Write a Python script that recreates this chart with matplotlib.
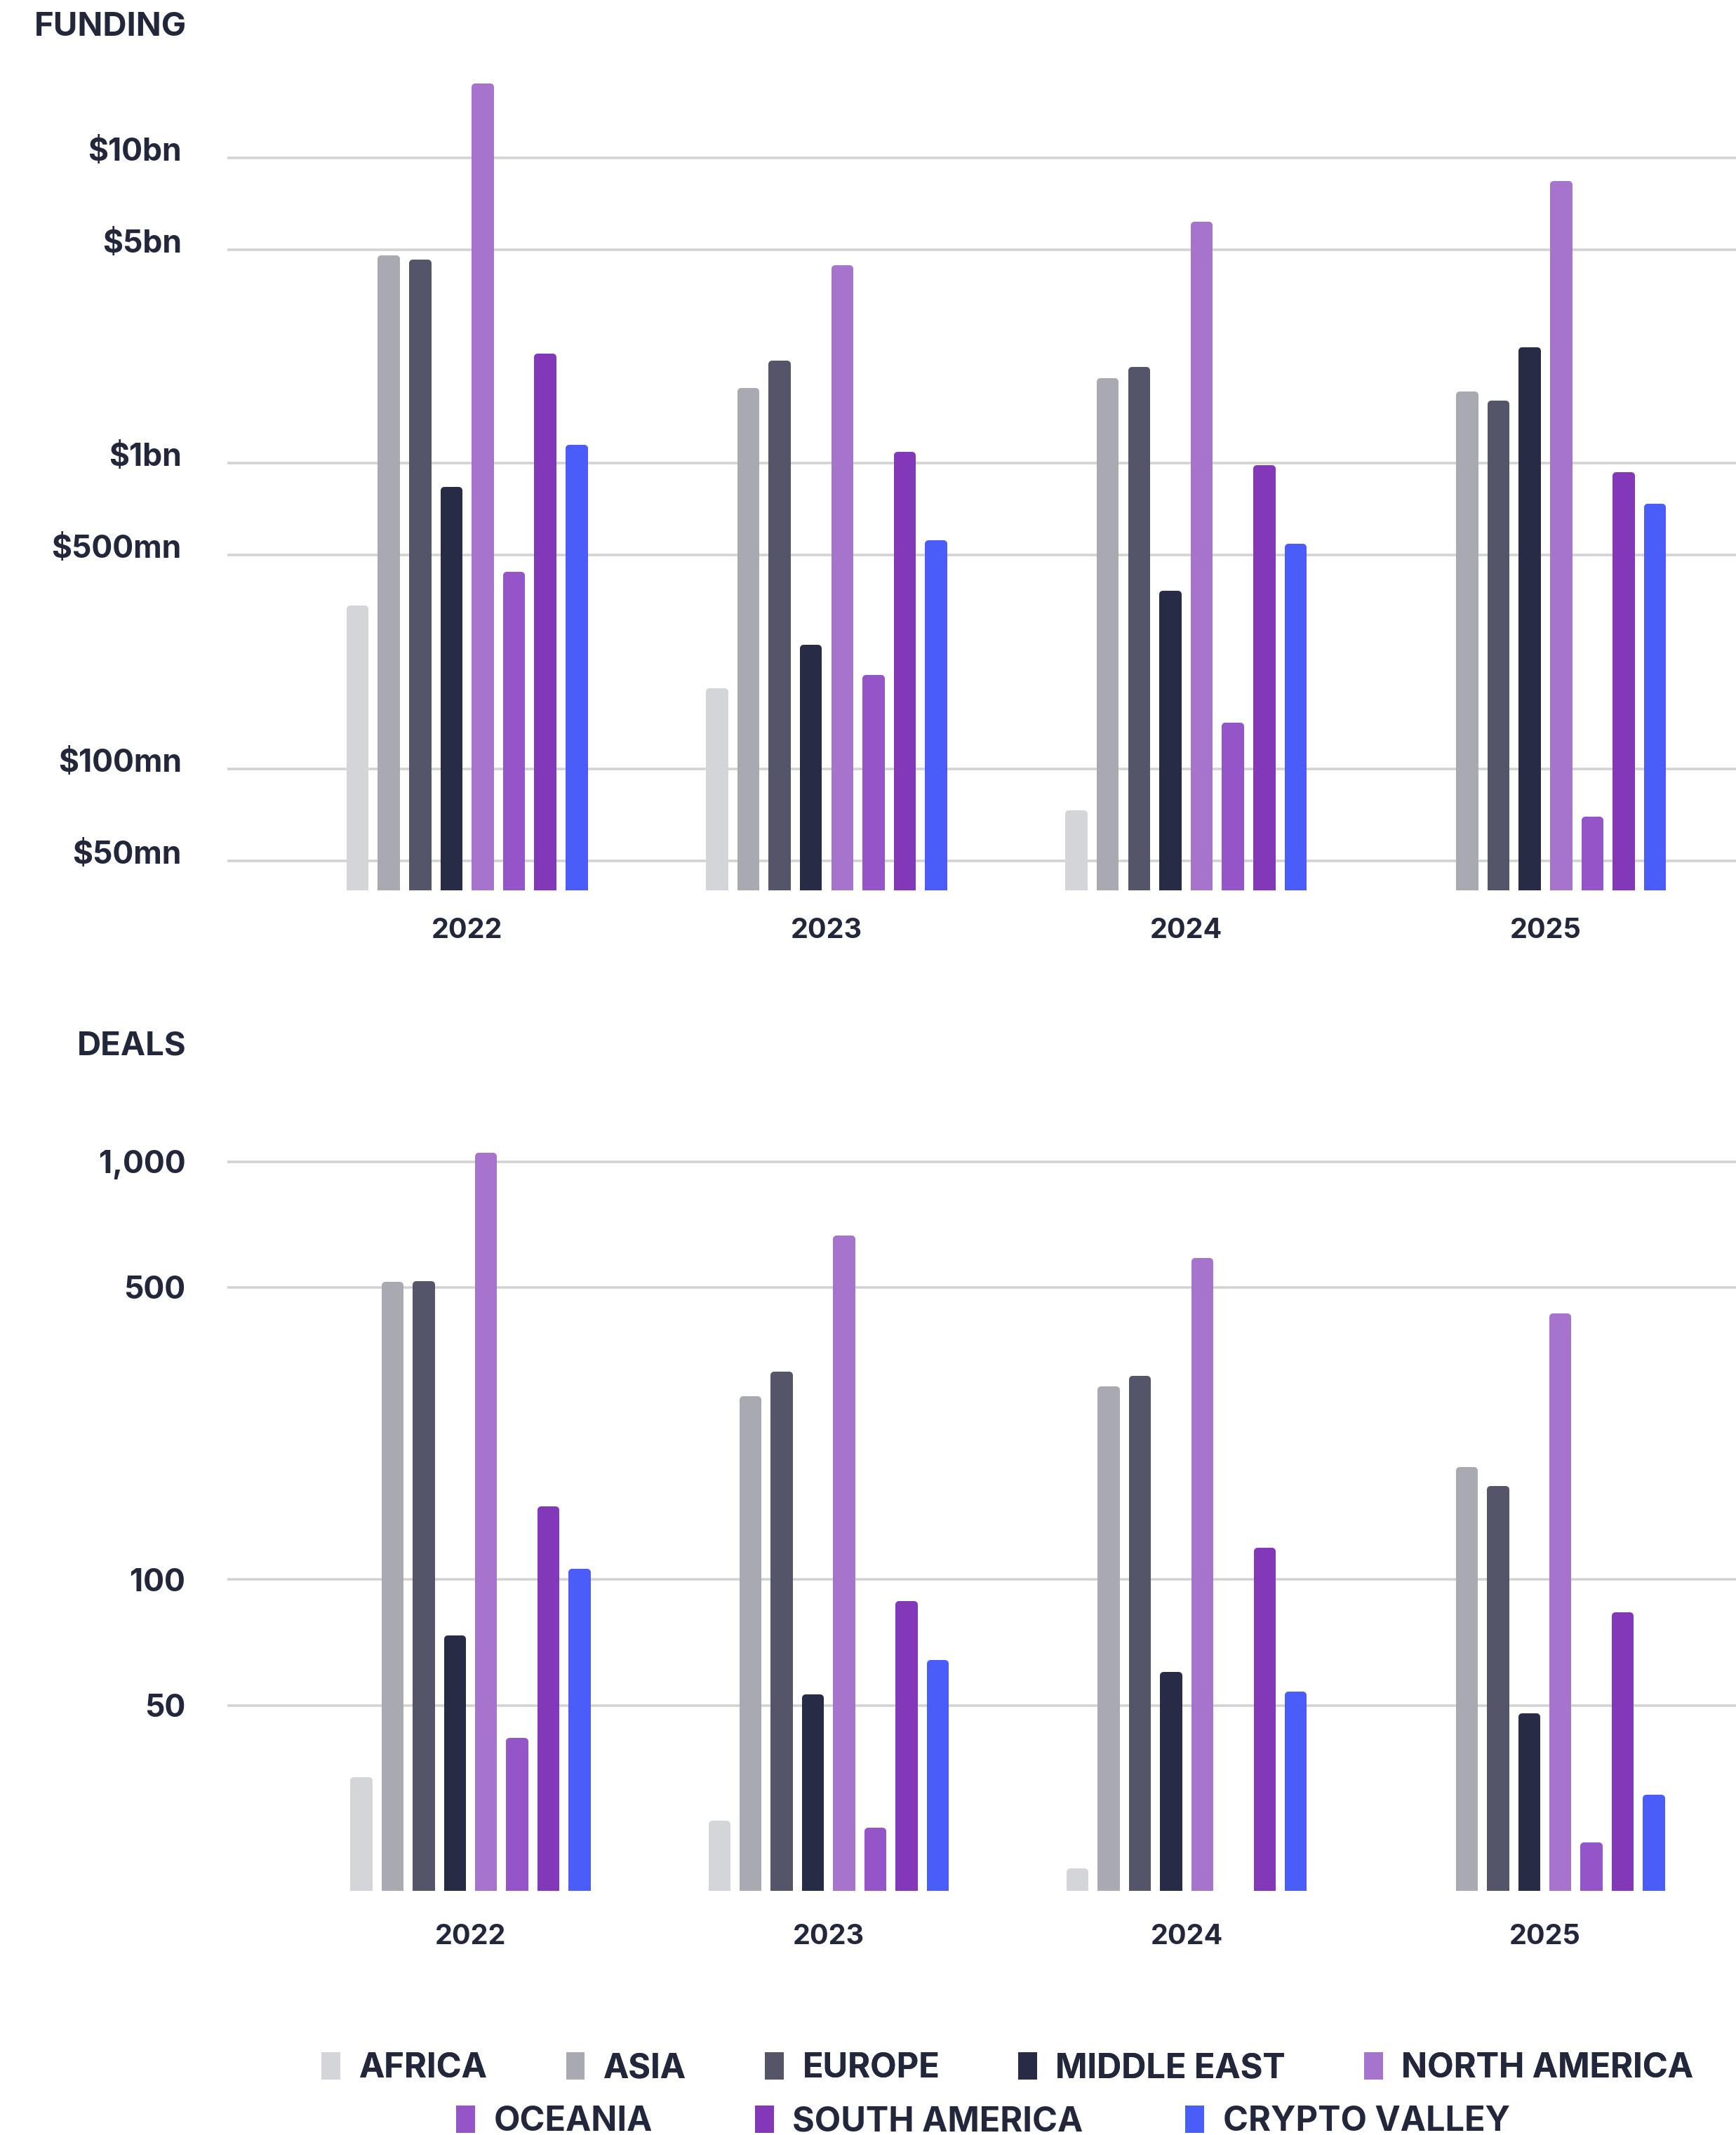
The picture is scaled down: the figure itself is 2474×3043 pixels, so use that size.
import matplotlib
matplotlib.use("Agg")
import matplotlib.pyplot as plt
import numpy as np
from matplotlib.patches import Patch
from matplotlib.ticker import NullLocator
import matplotlib.transforms as mtransforms

plt.rcParams['font.family'] = ['Inter', 'DejaVu Sans']

# ---------------- data ----------------
years = ["2022", "2023", "2024", "2025"]
regions = ["AFRICA", "ASIA", "EUROPE", "MIDDLE EAST", "NORTH AMERICA",
           "OCEANIA", "SOUTH AMERICA", "CRYPTO VALLEY"]
colors = ["#D4D5D9", "#A8A9B1", "#545569", "#282B45", "#A774CD",
          "#9455C9", "#8338B9", "#4B5DF8"]

# Funding, USD millions (0 = negligible / not shown)
funding_africa = [334, 179, 71, 0]
funding_asia = [4660, 1720, 1850, 1670]
funding_europe = [4520, 2110, 2010, 1560]
funding_middle_east = [815, 248, 373, 2340]
funding_north_america = [17100, 4330, 6030, 8180]
funding_oceania = [431, 198, 138, 68]
funding_south_america = [2230, 1060, 960, 912]
funding_crypto_valley = [1120, 546, 530, 719]

# Deals, count (0 = negligible / not shown)
deals_africa = [33, 26, 20, 0]
deals_asia = [505, 269, 284, 182]
deals_europe = [507, 308, 301, 164]
deals_middle_east = [72, 52, 59, 47]
deals_north_america = [1030, 652, 578, 425]
deals_oceania = [41, 25, 0, 23]
deals_south_america = [147, 87, 117, 82]
deals_crypto_valley = [104, 63, 53, 30]

funding_ticks = [50, 100, 500, 1000, 5000, 10000]
funding_ticklabels = ["$50mn", "$100mn", "$500mn", "$1bn", "$5bn", "$10bn"]
deals_ticks = [50, 100, 500, 1000]
deals_ticklabels = ["50", "100", "500", "1,000"]

funding_series = [funding_africa, funding_asia, funding_europe, funding_middle_east,
                  funding_north_america, funding_oceania, funding_south_america,
                  funding_crypto_valley]
deals_series = [deals_africa, deals_asia, deals_europe, deals_middle_east,
                deals_north_america, deals_oceania, deals_south_america,
                deals_crypto_valley]

NAVY = "#23273C"
FONT = ['Inter', 'DejaVu Sans']

W, H = 2474, 3043
fig = plt.figure(figsize=(W / 100, H / 100), dpi=100)
fig.patch.set_facecolor("white")

left = 324 / W
ax1 = fig.add_axes([left, 0.5830, 1 - left, 0.3861])
ax2 = fig.add_axes([left, 0.1144, 1 - left, 0.3638])

PITCH = 0.0871
EDGE_PX = 10
EDGE_PT = EDGE_PX * 72 / 100


def draw(ax, series, ymin, ymax, ticks, ticklabels, xlim, ypad, xpad, yshift):
    ax.set_yscale('log')
    ax.set_xlim(*xlim)
    ax.set_ylim(ymin, ymax)
    x = np.arange(len(years))
    n = len(series)
    px_per_unit = ax.get_position().width * W / (xlim[1] - xlim[0])
    bar_w = (31.5 - EDGE_PX) / px_per_unit
    for i, (vals, c) in enumerate(zip(series, colors)):
        vals = np.asarray(vals, dtype=float)
        mask = vals > ymin
        xs = x[mask] + (i - (n - 1) / 2) * PITCH
        ax.bar(xs, vals[mask] - ymin, bottom=ymin, width=bar_w, color=c,
               edgecolor=c, linewidth=EDGE_PT, joinstyle='round', zorder=3)
    ax.set_yticks(ticks)
    ax.set_yticklabels([])
    ax.yaxis.set_minor_locator(NullLocator())
    # y labels as text so they can sit slightly above the gridlines
    trans = mtransforms.blended_transform_factory(ax.transAxes, ax.transData) + \
        mtransforms.ScaledTranslation(-ypad / 72, yshift / 72, fig.dpi_scale_trans)
    for t, lab in zip(ticks, ticklabels):
        ax.text(0, t, lab, transform=trans, ha='right', va='center_baseline',
                fontsize=32, fontweight='bold', color=NAVY, family=FONT,
                clip_on=False)
    ax.set_xticks(x)
    ax.set_xticklabels(years)
    for lab in ax.get_xticklabels():
        lab.set_fontfamily(FONT)
        lab.set_fontweight('bold')
        lab.set_fontsize(28.5)
        lab.set_color(NAVY)
    ax.tick_params(axis='y', length=0)
    ax.tick_params(axis='x', length=0, pad=xpad)
    ax.grid(axis='y', color='#D3D3D3', linewidth=2.6, zorder=0)
    ax.set_axisbelow(True)
    for s in ax.spines.values():
        s.set_visible(False)
    ax.set_facecolor('none')


draw(ax1, funding_series, 40, 20000, funding_ticks, funding_ticklabels,
     (-0.667, 3.53), 47, 28, 9)
draw(ax2, deals_series, 18, 1300, deals_ticks, deals_ticklabels,
     (-0.679, 3.534), 43, 34, 0)

fig.text(266 / W, 1 - 39 / H, "FUNDING", ha='right', va='center',
         fontsize=34, fontweight='bold', color=NAVY, family=FONT)
fig.text(266 / W, 1 - 1492 / H, "DEALS", ha='right', va='center',
         fontsize=34, fontweight='bold', color=NAVY, family=FONT)

handles = [Patch(facecolor=c, edgecolor='none') for c in colors]
prop = dict(family=FONT, weight='bold', size=35)
leg1 = fig.legend(handles[:5], regions[:5], loc='center',
                  bbox_to_anchor=(740 / 1275, 0.0312), ncol=5, frameon=False,
                  prop=prop, labelcolor=NAVY, handlelength=0.55, handleheight=0.85,
                  handletextpad=0.55, columnspacing=2.3, borderaxespad=0, borderpad=0)
leg2 = fig.legend(handles[5:], regions[5:], loc='center',
                  bbox_to_anchor=(722 / 1275, 0.0062), ncol=3, frameon=False,
                  prop=prop, labelcolor=NAVY, handlelength=0.55, handleheight=0.85,
                  handletextpad=0.55, columnspacing=3.0, borderaxespad=0, borderpad=0)
fig.add_artist(leg1)

fig.savefig("out.png", dpi=100, facecolor="white")
